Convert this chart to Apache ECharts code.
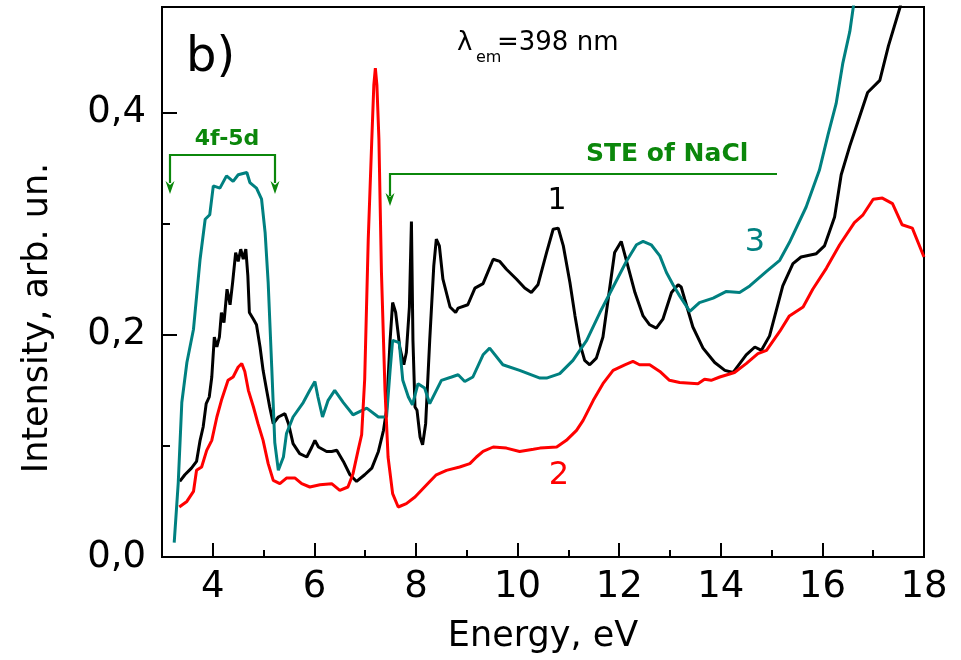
<!DOCTYPE html>
<html>
<head>
<meta charset="utf-8">
<script src="https://cdn.jsdelivr.net/npm/echarts@6/dist/echarts.min.js"></script>
<style>
  html, body { margin: 0; padding: 0; background: #fff; }
  #chart { width: 961px; height: 660px; }
</style>
</head>
<body>
<div id="chart"></div>
<script>
// Excitation spectra, λem = 398 nm
// Curve 1 (black)
const energy1 = [3.35,3.45,3.58,3.68,3.75,3.81,3.87,3.93,3.98,4.03,4.08,4.13,4.17,4.22,4.28,4.34,4.39,4.45,4.50,4.55,4.60,4.65,4.69,4.72,4.80,4.86,4.93,4.99,5.06,5.12,5.19,5.29,5.42,5.49,5.58,5.71,5.85,5.95,6.01,6.08,6.24,6.34,6.44,6.57,6.70,6.83,6.99,7.13,7.26,7.36,7.42,7.49,7.54,7.60,7.68,7.76,7.81,7.87,7.91,7.94,7.98,8.02,8.08,8.13,8.19,8.27,8.35,8.40,8.46,8.53,8.67,8.78,8.83,9.02,9.16,9.32,9.42,9.52,9.65,9.78,9.98,10.14,10.27,10.40,10.57,10.70,10.80,10.90,11.03,11.13,11.22,11.32,11.42,11.55,11.68,11.81,11.91,12.04,12.17,12.31,12.47,12.60,12.73,12.86,13.03,13.16,13.22,13.29,13.45,13.65,13.88,14.08,14.24,14.50,14.67,14.80,14.96,15.22,15.42,15.58,15.88,16.04,16.24,16.37,16.54,16.73,16.89,17.13,17.30,17.53,17.62];
const intensity1 = [0.068,0.074,0.080,0.086,0.105,0.117,0.138,0.144,0.162,0.198,0.189,0.198,0.220,0.211,0.241,0.227,0.247,0.274,0.266,0.277,0.268,0.277,0.253,0.220,0.214,0.209,0.189,0.168,0.150,0.135,0.120,0.126,0.129,0.120,0.102,0.093,0.090,0.099,0.105,0.099,0.095,0.095,0.096,0.086,0.074,0.068,0.074,0.080,0.095,0.114,0.132,0.195,0.229,0.220,0.189,0.173,0.184,0.225,0.302,0.195,0.135,0.132,0.108,0.101,0.120,0.195,0.262,0.286,0.280,0.250,0.225,0.220,0.224,0.227,0.242,0.246,0.257,0.268,0.266,0.259,0.250,0.242,0.238,0.245,0.274,0.295,0.296,0.280,0.247,0.217,0.193,0.177,0.173,0.179,0.198,0.241,0.274,0.284,0.262,0.238,0.217,0.209,0.206,0.214,0.238,0.245,0.243,0.232,0.207,0.188,0.175,0.168,0.166,0.182,0.189,0.186,0.199,0.244,0.264,0.270,0.273,0.280,0.306,0.344,0.370,0.396,0.418,0.429,0.460,0.495,0.520];

// Curve 2 (red)
const energy2 = [3.34,3.49,3.62,3.68,3.78,3.88,3.98,4.08,4.17,4.30,4.40,4.50,4.57,4.63,4.70,4.80,4.89,4.99,5.09,5.19,5.32,5.45,5.62,5.75,5.91,6.11,6.34,6.50,6.66,6.76,6.86,6.93,6.99,7.06,7.13,7.17,7.20,7.23,7.27,7.32,7.39,7.45,7.54,7.65,7.81,7.98,8.21,8.40,8.60,8.86,9.06,9.19,9.32,9.52,9.78,10.04,10.31,10.44,10.77,10.96,11.16,11.29,11.49,11.68,11.88,12.11,12.27,12.40,12.60,12.80,12.99,13.19,13.55,13.68,13.81,13.98,14.27,14.50,14.73,14.90,15.16,15.35,15.62,15.81,16.08,16.34,16.63,16.80,17.00,17.18,17.38,17.57,17.77,18.00];
const intensity2 = [0.045,0.050,0.059,0.078,0.081,0.096,0.105,0.126,0.141,0.159,0.162,0.171,0.174,0.167,0.150,0.135,0.120,0.105,0.084,0.069,0.066,0.071,0.071,0.066,0.063,0.065,0.066,0.060,0.063,0.075,0.096,0.110,0.160,0.286,0.376,0.425,0.440,0.425,0.376,0.256,0.150,0.090,0.057,0.045,0.048,0.054,0.065,0.074,0.078,0.081,0.084,0.090,0.095,0.099,0.098,0.095,0.097,0.098,0.099,0.105,0.114,0.123,0.141,0.156,0.168,0.173,0.176,0.173,0.173,0.167,0.159,0.157,0.156,0.160,0.159,0.162,0.166,0.174,0.183,0.186,0.203,0.217,0.225,0.241,0.260,0.281,0.301,0.308,0.322,0.323,0.318,0.299,0.296,0.270];

// Curve 3 (teal)
const energy3 = [3.24,3.32,3.39,3.49,3.62,3.75,3.85,3.94,4.01,4.14,4.27,4.40,4.50,4.67,4.73,4.86,4.96,5.03,5.09,5.16,5.22,5.29,5.39,5.45,5.58,5.78,5.91,6.01,6.07,6.16,6.27,6.40,6.57,6.76,7.03,7.26,7.42,7.49,7.54,7.67,7.74,7.85,7.93,8.04,8.17,8.27,8.50,8.70,8.83,8.96,9.12,9.32,9.45,9.71,10.04,10.44,10.57,10.83,11.09,11.36,11.62,11.88,12.14,12.34,12.47,12.63,12.80,12.93,13.06,13.19,13.39,13.58,13.85,14.11,14.37,14.57,14.90,15.16,15.35,15.68,15.94,16.11,16.27,16.40,16.54,16.63,16.70];
const intensity3 = [0.013,0.067,0.139,0.175,0.205,0.268,0.304,0.308,0.334,0.332,0.343,0.338,0.344,0.346,0.337,0.332,0.322,0.292,0.247,0.171,0.103,0.078,0.090,0.111,0.126,0.139,0.150,0.158,0.144,0.126,0.141,0.150,0.139,0.128,0.134,0.126,0.126,0.168,0.195,0.193,0.159,0.144,0.137,0.156,0.152,0.138,0.159,0.162,0.164,0.158,0.162,0.182,0.188,0.173,0.168,0.161,0.161,0.165,0.177,0.195,0.220,0.243,0.266,0.281,0.284,0.281,0.271,0.256,0.245,0.235,0.221,0.229,0.233,0.239,0.238,0.244,0.257,0.267,0.283,0.315,0.348,0.380,0.408,0.444,0.473,0.502,0.530];

// Axis ticks
const xMajorTicks = [4, 6, 8, 10, 12, 14, 16, 18];
const xMinorTicks = [5, 7, 9, 11, 13, 15, 17];
const yMajorTicks = [0, 0.2, 0.4];
const yMinorTicks = [0.1, 0.3];

const FONT = 'DejaVu Sans';
const GREEN = '#0b870b';

const zip = (xs, ys) => xs.map((x, i) => [x, ys[i]]);

const chart = echarts.init(document.getElementById('chart'), null, { renderer: 'canvas' });

const baseX = { type: 'value', min: 3, max: 18, gridIndex: 0, position: 'bottom',
  axisLine: { show: false }, splitLine: { show: false } };
const baseY = { type: 'value', min: 0, max: 0.495, gridIndex: 0, position: 'left',
  axisLine: { show: false }, splitLine: { show: false } };

// green bracket arrow head pointing down
function arrowHead(x, tipY) {
  return { type: 'polygon', shape: { points: [[x, tipY], [x - 4.5, tipY - 13], [x, tipY - 9], [x + 4.5, tipY - 13]] },
    style: { fill: GREEN } };
}

const option = {
  backgroundColor: '#fff',
  animation: false,
  grid: { left: 162, right: 37, top: 7, bottom: 103, show: true, borderColor: '#000', borderWidth: 2, backgroundColor: 'transparent' },
  xAxis: [
    Object.assign({}, baseX, {
      name: 'Energy, eV', nameLocation: 'middle', nameGap: 62,
      nameTextStyle: { fontFamily: FONT, fontSize: 35, color: '#000' },
      axisTick: { show: true, inside: true, length: 14, customValues: xMajorTicks, lineStyle: { color: '#000', width: 2 } },
      axisLabel: { show: true, customValues: xMajorTicks, margin: 12, fontFamily: FONT, fontSize: 37, color: '#000' }
    }),
    Object.assign({}, baseX, {
      axisTick: { show: true, inside: true, length: 7, customValues: xMinorTicks, lineStyle: { color: '#000', width: 2 } },
      axisLabel: { show: false }
    })
  ],
  yAxis: [
    Object.assign({}, baseY, {
      axisTick: { show: true, inside: true, length: 15, customValues: yMajorTicks, lineStyle: { color: '#000', width: 2 } },
      axisLabel: { show: true, customValues: yMajorTicks, margin: 16, fontFamily: FONT, fontSize: 37, color: '#000',
        formatter: v => v.toFixed(1).replace('.', ',') }
    }),
    Object.assign({}, baseY, {
      axisTick: { show: true, inside: true, length: 8, customValues: yMinorTicks, lineStyle: { color: '#000', width: 2 } },
      axisLabel: { show: false }
    })
  ],
  series: [
    { name: '1', type: 'line', data: zip(energy1, intensity1), showSymbol: false, clip: true,
      lineStyle: { color: '#000000', width: 3 }, itemStyle: { color: '#000000' } },
    { name: '3', type: 'line', data: zip(energy3, intensity3), showSymbol: false, clip: true,
      lineStyle: { color: '#008080', width: 3 }, itemStyle: { color: '#008080' } },
    { name: '2', type: 'line', data: zip(energy2, intensity2), showSymbol: false, clip: true,
      lineStyle: { color: '#ff0000', width: 3 }, itemStyle: { color: '#ff0000' } }
  ],
  graphic: [
    { type: 'text', x: 186, y: 59, style: { text: 'b)', font: '48px "DejaVu Sans"', fill: '#000', verticalAlign: 'middle', align: 'left' } },
    { type: 'text', x: 457, y: 43, style: { text: 'λ', font: '26px "DejaVu Sans"', fill: '#000', verticalAlign: 'middle', align: 'left' } },
    { type: 'text', x: 476, y: 58, style: { text: 'em', font: '16px "DejaVu Sans"', fill: '#000', verticalAlign: 'middle', align: 'left' } },
    { type: 'text', x: 497, y: 43, style: { text: '=398 nm', font: '26px "DejaVu Sans"', fill: '#000', verticalAlign: 'middle', align: 'left' } },
    { type: 'text', x: 38, y: 318, rotation: Math.PI / 2,
      style: { text: 'Intensity, arb. un.', font: '35px "DejaVu Sans"', fill: '#000', verticalAlign: 'middle', align: 'center' } },
    // 4f-5d bracket
    { type: 'polyline', shape: { points: [[170, 183], [170, 155], [275, 155], [275, 183]] }, style: { stroke: GREEN, lineWidth: 2.2, fill: null } },
    arrowHead(170, 194), arrowHead(275, 194),
    { type: 'text', x: 227, y: 139, style: { text: '4f-5d', font: 'bold 22px "DejaVu Sans"', fill: GREEN, verticalAlign: 'middle', align: 'center' } },
    // STE of NaCl bracket
    { type: 'polyline', shape: { points: [[390, 196], [390, 174], [777, 174]] }, style: { stroke: GREEN, lineWidth: 2.2, fill: null } },
    arrowHead(390, 206),
    { type: 'text', x: 586, y: 154, style: { text: 'STE of NaCl', font: 'bold 25px "DejaVu Sans"', fill: GREEN, verticalAlign: 'middle', align: 'left' } },
    // curve numbers
    { type: 'text', x: 557, y: 201, style: { text: '1', font: '30px "DejaVu Sans"', fill: '#000', verticalAlign: 'middle', align: 'center' } },
    { type: 'text', x: 559, y: 476, style: { text: '2', font: '32px "DejaVu Sans"', fill: '#ff0000', verticalAlign: 'middle', align: 'center' } },
    { type: 'text', x: 755, y: 243, style: { text: '3', font: '32px "DejaVu Sans"', fill: '#008080', verticalAlign: 'middle', align: 'center' } }
  ]
};

chart.setOption(option);
</script>
</body>
</html>
